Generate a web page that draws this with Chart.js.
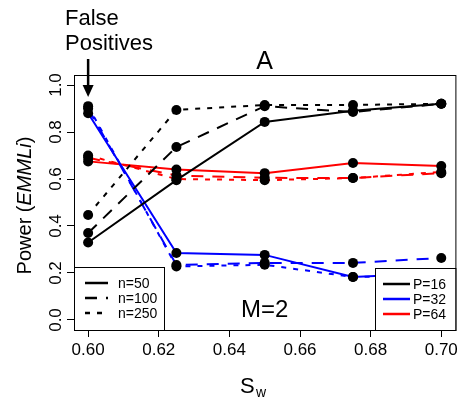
<!DOCTYPE html>
<html>
<head>
<meta charset="utf-8">
<script src="https://cdn.jsdelivr.net/npm/chart.js@4"></script>
<style>
  body { margin: 0; background: #fff; }
</style>
</head>
<body>
<canvas id="chart" width="461" height="404"></canvas>
<script>
// x values (S_w)
var sw = [0.60, 0.625, 0.65, 0.675, 0.70];

// power, P=16 (black)
var p16_n50  = [0.33, 0.595, 0.843, 0.89, 0.92];
var p16_n100 = [0.37, 0.736, 0.91, 0.885, 0.92];
var p16_n250 = [0.447, 0.894, 0.915, 0.915, 0.92];

// power, P=32 (blue)
var p32_n50  = [0.88, 0.285, 0.277, 0.183, 0.20];
var p32_n100 = [0.90, 0.234, 0.243, 0.243, 0.264];
var p32_n250 = [0.91, 0.228, 0.235, 0.183, 0.19];

// power, P=64 (red)
var p64_n50  = [0.675, 0.64, 0.625, 0.668, 0.655];
var p64_n100 = [0.69, 0.615, 0.605, 0.604, 0.625];
var p64_n250 = [0.70, 0.60, 0.595, 0.604, 0.63];

var xTicks = [0.60, 0.62, 0.64, 0.66, 0.68, 0.70];
var yTicks = [0.0, 0.2, 0.4, 0.6, 0.8, 1.0];
var nLabels = ["n=50", "n=100", "n=250"];
var pLabels = ["P=16", "P=32", "P=64"];

var colors = ["#000000", "#0000ff", "#ff0000"];
var dashes = [[], [12, 9], [5, 7]];
var series = [
    [p16_n50, p16_n100, p16_n250],
    [p32_n50, p32_n100, p32_n250],
    [p64_n50, p64_n100, p64_n250]
];
var FONT = "'Liberation Sans', Arial, sans-serif";

function pts(vals) {
    return vals.map(function(v, i) { return { x: sw[i], y: v }; });
}

var datasets = [];
for (var p = 0; p < 3; p++) {
    for (var n = 0; n < 3; n++) {
        // the line
        datasets.push({
            data: pts(series[p][n]),
            borderColor: colors[p],
            borderWidth: 2,
            borderDash: dashes[n],
            pointRadius: 0,
            tension: 0,
            fill: false,
            order: 1
        });
        // the black dots, drawn on top of all lines
        datasets.push({
            data: pts(series[p][n]),
            showLine: false,
            pointRadius: 5,
            pointBackgroundColor: "#000",
            pointBorderColor: "#000",
            pointBorderWidth: 0,
            order: 0
        });
    }
}

function drawLegend(ctx, x0, y0, x1, y1, labels, lineColors, lineDashes, sx0, sx1, tx) {
    ctx.save();
    ctx.fillStyle = "#fff";
    ctx.fillRect(x0, y0, x1 - x0, y1 - y0);
    ctx.strokeStyle = "#000";
    ctx.lineWidth = 1;
    ctx.strokeRect(x0 + 0.5, y0 + 0.5, x1 - x0, y1 - y0);
    ctx.font = "14px " + FONT;
    ctx.textBaseline = "middle";
    ctx.textAlign = "left";
    for (var i = 0; i < labels.length; i++) {
        var yy = y0 + 16 + i * 15;
        ctx.beginPath();
        ctx.strokeStyle = lineColors[i];
        ctx.lineWidth = 2.5;
        ctx.setLineDash(lineDashes[i]);
        ctx.moveTo(sx0, yy);
        ctx.lineTo(sx1, yy);
        ctx.stroke();
        ctx.setLineDash([]);
        ctx.fillStyle = "#000";
        ctx.fillText(labels[i], tx, yy + 1);
    }
    ctx.restore();
}

var extras = {
    id: "extras",
    afterDraw: function(chart) {
        var ctx = chart.ctx;
        var a = chart.chartArea;
        var xs = chart.scales.x, ys = chart.scales.y;

        // box round the plot
        ctx.save();
        ctx.strokeStyle = "#000";
        ctx.lineWidth = 1;
        ctx.strokeRect(a.left + 0.5, a.top + 0.5, a.right - a.left, a.bottom - a.top);
        ctx.restore();

        // legends
        drawLegend(ctx, a.left, 267, 164, a.bottom, nLabels,
            ["#000", "#000", "#000"], dashes, 85, 108, 118);
        drawLegend(ctx, 375, 268, a.right, a.bottom, pLabels,
            colors, [[], [], []], 383, 410, 413);

        ctx.save();
        ctx.fillStyle = "#000";

        // y tick labels, parallel to the axis
        ctx.font = "17px " + FONT;
        ctx.textAlign = "center";
        ctx.textBaseline = "alphabetic";
        ys.ticks.forEach(function(t) {
            ctx.save();
            ctx.translate(61, ys.getPixelForValue(t.value));
            ctx.rotate(-Math.PI / 2);
            ctx.fillText(t.value.toFixed(1), 0, 0);
            ctx.restore();
        });

        // y title: Power (EMMLi)
        ctx.save();
        ctx.translate(31, (a.top + a.bottom) / 2 + 3);
        ctx.rotate(-Math.PI / 2);
        var parts = [["Power (", "20px " + FONT], ["EMMLi", "italic 20px " + FONT], [")", "20px " + FONT]];
        var total = 0;
        parts.forEach(function(pt) { ctx.font = pt[1]; total += ctx.measureText(pt[0]).width; });
        var px = -total / 2;
        ctx.textAlign = "left";
        parts.forEach(function(pt) {
            ctx.font = pt[1];
            ctx.fillText(pt[0], px, 0);
            px += ctx.measureText(pt[0]).width;
        });
        ctx.restore();

        // x title: S with subscript w
        ctx.textAlign = "left";
        ctx.font = "22px " + FONT;
        ctx.fillText("S", 240, 393);
        ctx.font = "14px " + FONT;
        ctx.fillText("w", 256, 397);

        // panel letter and M=2
        ctx.textAlign = "center";
        ctx.font = "25px " + FONT;
        ctx.fillText("A", (a.left + a.right) / 2, 69);
        ctx.font = "24px " + FONT;
        ctx.fillText("M=2", (a.left + a.right) / 2, 317);

        // False Positives with arrow
        ctx.textAlign = "left";
        ctx.font = "22px " + FONT;
        ctx.fillText("False", 65, 25);
        ctx.fillText("Positives", 65, 50);
        var ax = xs.getPixelForValue(sw[0]);
        ctx.strokeStyle = "#000";
        ctx.lineWidth = 2.5;
        ctx.beginPath();
        ctx.moveTo(ax, 59);
        ctx.lineTo(ax, 88);
        ctx.stroke();
        ctx.beginPath();
        ctx.moveTo(ax - 5.5, 85);
        ctx.lineTo(ax + 5.5, 85);
        ctx.lineTo(ax, 97);
        ctx.closePath();
        ctx.fill();
        ctx.restore();
    }
};

new Chart(document.getElementById("chart"), {
    type: "line",
    data: { datasets: datasets },
    options: {
        responsive: false,
        animation: false,
        layout: { padding: { top: 75, right: 5, left: 0, bottom: 0 } },
        plugins: {
            legend: { display: false },
            tooltip: { enabled: false }
        },
        scales: {
            x: {
                type: "linear",
                min: 0.596,
                max: 0.704,
                afterBuildTicks: function(s) { s.ticks = xTicks.map(function(v) { return { value: v }; }); },
                afterFit: function(s) { s.height = 74; },
                grid: { drawOnChartArea: false, color: "#000", tickLength: 7 },
                border: { color: "#000" },
                ticks: {
                    color: "#000",
                    font: { family: FONT, size: 17 },
                    padding: 3,
                    maxRotation: 0,
                    autoSkip: false,
                    callback: function(v) { return v.toFixed(2); }
                }
            },
            y: {
                min: -0.0426,
                max: 1.0426,
                afterBuildTicks: function(s) { s.ticks = yTicks.map(function(v) { return { value: v }; }); },
                afterFit: function(s) { s.width = 74; },
                grid: { drawOnChartArea: false, color: "#000", tickLength: 7 },
                border: { color: "#000" },
                ticks: { display: false }
            }
        }
    },
    plugins: [extras]
});
</script>
</body>
</html>
